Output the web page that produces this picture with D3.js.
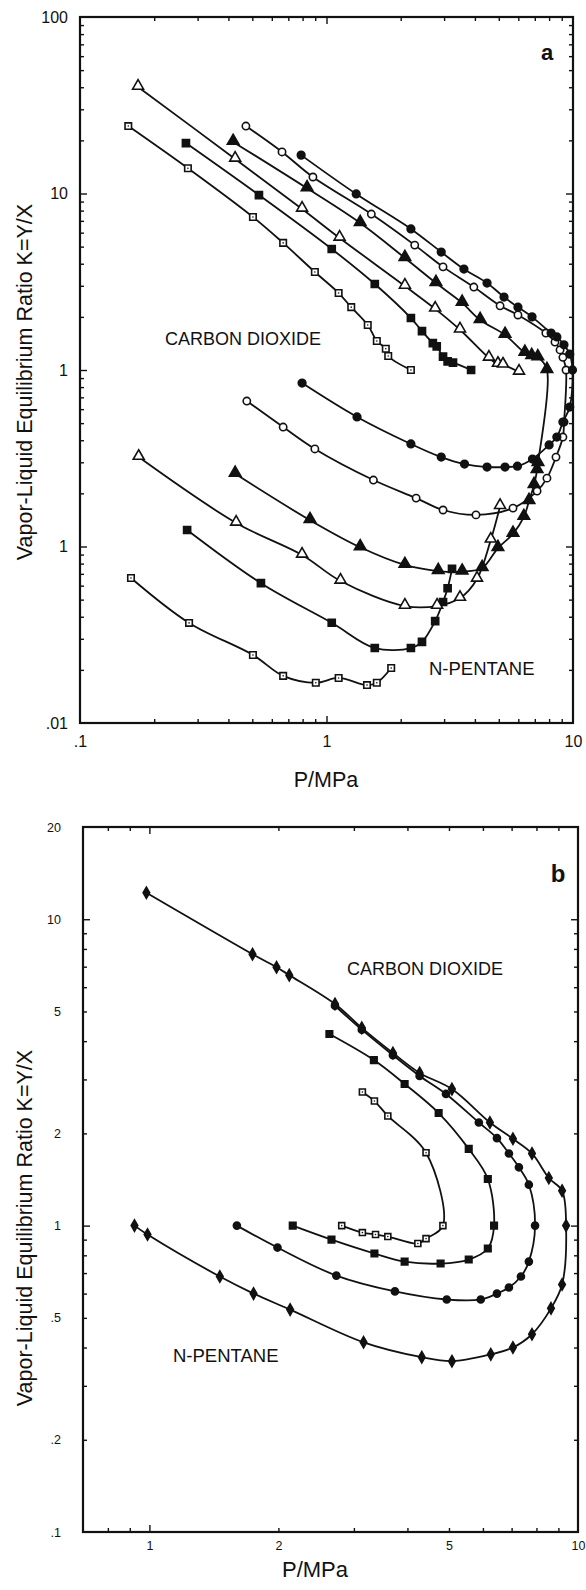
<!DOCTYPE html>
<html>
<head>
<meta charset="utf-8">
<script src="https://cdn.jsdelivr.net/npm/d3@7.9.0/dist/d3.min.js"></script>
<style>
  body { margin: 0; background: #fff; }
  svg { display: block; font-family: "Liberation Sans", Arial, Helvetica, sans-serif; }
</style>
</head>
<body>
<svg id="chart" width="586" height="1590"></svg>
<script>
// ---- panel a: [P/MPa, K] pairs, one array per isotherm and branch ----
const aOpenSquareCO2 = [[0.157, 24.1], [0.274, 13.9], [0.503, 7.36], [0.667, 5.25], [0.897, 3.59], [1.12, 2.73], [1.26, 2.27], [1.47, 1.80], [1.60, 1.46], [1.74, 1.32], [1.78, 1.20], [2.20, 1.00]];
const aOpenSquarePentane = [[0.161, 0.0663], [0.277, 0.0369], [0.503, 0.0243], [0.667, 0.0185], [0.905, 0.0169], [1.12, 0.0180], [1.46, 0.0164], [1.60, 0.0169], [1.83, 0.0205]];
const aFilledSquareCO2 = [[0.269, 19.3], [0.532, 9.8], [1.05, 4.85], [1.57, 3.07], [2.20, 1.97], [2.44, 1.66], [2.70, 1.42], [2.80, 1.36], [2.97, 1.19], [3.10, 1.12], [3.26, 1.10], [3.86, 1.00]];
const aFilledSquarePentane = [[0.272, 0.124], [0.542, 0.062], [1.05, 0.037], [1.57, 0.0266], [2.20, 0.0266], [2.44, 0.0288], [2.76, 0.0378], [2.97, 0.0485], [3.10, 0.058], [3.23, 0.0747]];
const aOpenTriangleCO2 = [[0.172, 40.1], [0.426, 15.7], [0.796, 8.17], [1.13, 5.6], [2.08, 2.99], [2.76, 2.22], [3.48, 1.69], [4.56, 1.17], [4.96, 1.08], [5.2, 1.07], [6.04, 0.975]];
const aOpenTrianglePentane = [[0.173, 0.321], [0.430, 0.136], [0.796, 0.0896], [1.14, 0.0638], [2.08, 0.046], [2.81, 0.046], [3.48, 0.051], [4.08, 0.0655], [4.64, 0.109], [5.06, 0.169]];
const aFilledTriangleCO2 = [[0.418, 19.6], [0.834, 10.7], [1.37, 6.8], [2.08, 4.31], [2.78, 3.11], [3.55, 2.40], [4.20, 1.92], [5.30, 1.58], [6.38, 1.25], [6.8, 1.20], [7.2, 1.18], [7.84, 1.00]];
const aFilledTrianglePentane = [[0.426, 0.258], [0.857, 0.141], [1.37, 0.099], [2.08, 0.0786], [2.84, 0.0726], [3.55, 0.072], [4.28, 0.0755], [4.96, 0.098], [5.71, 0.118], [6.32, 0.147], [6.63, 0.181], [6.95, 0.223], [7.15, 0.271], [7.21, 0.297]];
const aOpenCircleCO2 = [[0.471, 24.1], [0.660, 17.2], [0.881, 12.4], [1.52, 7.65], [2.28, 5.1], [2.97, 3.84], [3.96, 2.95], [5.06, 2.31], [5.98, 2.05], [7.76, 1.62], [8.45, 1.44], [8.86, 1.30], [9.1, 1.18], [9.37, 1.00]];
const aOpenCirclePentane = [[0.475, 0.667], [0.667, 0.475], [0.897, 0.357], [1.55, 0.238], [2.31, 0.188], [2.97, 0.161], [4.04, 0.151], [5.71, 0.165], [7.15, 0.206], [7.84, 0.244], [8.53, 0.321], [9.10, 0.417], [9.2, 0.507]];
const aFilledCircleCO2 = [[0.789, 16.5], [1.32, 9.94], [2.2, 6.3], [2.92, 4.66], [3.61, 3.73], [4.48, 3.11], [5.25, 2.59], [5.98, 2.27], [6.82, 2.0], [8.15, 1.62], [8.6, 1.54], [9.19, 1.39], [9.7, 1.23], [9.95, 1.00]];
const aFilledCirclePentane = [[0.796, 0.843], [1.33, 0.542], [2.2, 0.381], [2.92, 0.321], [3.63, 0.293], [4.48, 0.282], [5.3, 0.282], [5.95, 0.285], [6.85, 0.313], [8.0, 0.376], [8.6, 0.417], [9.1, 0.507], [9.7, 0.617]];

// ---- panel b ----
const bDiamondCO2 = [[0.984, 12.2], [1.74, 7.69], [1.98, 6.97], [2.12, 6.57], [2.71, 5.29], [3.13, 4.42], [3.70, 3.66], [4.27, 3.15], [5.08, 2.79], [6.23, 2.17], [7.05, 1.92], [7.81, 1.72], [8.55, 1.43], [9.18, 1.30]];
const bDiamondPentane = [[0.923, 1.0], [0.99, 0.935], [1.46, 0.682], [1.75, 0.60], [2.13, 0.532], [3.16, 0.416], [4.32, 0.372], [5.08, 0.361], [6.26, 0.38], [7.05, 0.40], [7.81, 0.442], [8.65, 0.537], [9.18, 0.642], [9.38, 1.0]];
const bCircleCO2 = [[2.71, 5.22], [3.13, 4.36], [3.70, 3.60], [4.27, 3.08], [4.92, 2.69], [5.87, 2.17], [6.47, 1.93], [6.9, 1.72], [7.28, 1.55], [7.68, 1.36]];
const bCirclePentane = [[1.60, 1.0], [1.99, 0.848], [2.73, 0.687], [3.74, 0.61], [4.94, 0.574], [5.93, 0.574], [6.47, 0.60], [6.9, 0.628], [7.36, 0.682], [7.68, 0.763], [7.94, 1.0]];
const bSquareCO2 = [[2.63, 4.22], [3.34, 3.47], [3.94, 2.9], [4.73, 2.33], [5.56, 1.78], [6.16, 1.42]];
const bSquarePentane = [[2.16, 1.0], [2.66, 0.90], [3.35, 0.811], [3.94, 0.763], [4.78, 0.752], [5.56, 0.775], [6.16, 0.842], [6.37, 1.0]];
const bOpenSquareCO2 = [[3.14, 2.73], [3.35, 2.55], [3.60, 2.28], [4.42, 1.73]];
const bOpenSquarePentane = [[2.81, 1.0], [3.14, 0.949], [3.37, 0.935], [3.6, 0.921], [4.23, 0.874], [4.42, 0.907], [4.84, 1.0]];

// tick labels
const aXTicks = [0.1, 1, 10];
const aXTickLabels = ['.1', '1', '10'];
const aYTicks = [0.01, 0.1, 1, 10, 100];
const aYTickLabels = ['.01', '1', '1', '10', '100'];
const bXTicks = [1, 2, 5, 10];
const bXTickLabels = ['1', '2', '5', '10'];
const bYTicks = [0.1, 0.2, 0.5, 1, 2, 5, 10, 20];
const bYTickLabels = ['.1', '.2', '.5', '1', '2', '5', '10', '20'];

const svg = d3.select('#chart');
const isDecade = v => Math.abs(Math.log10(v) - Math.round(Math.log10(v))) < 1e-6;

function drawPanel(p) {
  const x = d3.scaleLog().domain(p.xDomain).range([p.left, p.right]);
  const y = d3.scaleLog().domain(p.yDomain).range([p.bottom, p.top]);
  const g = svg.append('g');

  const xAll = x.ticks().filter(v => v > p.xDomain[0] * 1.001 && v < p.xDomain[1] * 0.999);
  const yAll = y.ticks().filter(v => v > p.yDomain[0] * 1.001 && v < p.yDomain[1] * 0.999);
  const sides = [
    [d3.axisBottom(x), xAll, `translate(0,${p.bottom})`],
    [d3.axisTop(x), xAll, `translate(0,${p.top})`],
    [d3.axisLeft(y), yAll, `translate(${p.left},0)`],
    [d3.axisRight(y), yAll, `translate(${p.right},0)`]
  ];
  sides.forEach(([axis, vals, tr]) => {
    const minor = vals.filter(v => !isDecade(v));
    const major = vals.filter(isDecade);
    [[minor, 4], [major, 7]].forEach(([tv, len]) => {
      const a = g.append('g').attr('transform', tr)
        .call(axis.tickValues(tv).tickSize(-len).tickFormat(''));
      a.select('.domain').remove();
      a.selectAll('line').attr('stroke', '#111').attr('stroke-width', 1.4);
    });
  });

  // tick labels
  const xl = g.append('g').attr('transform', `translate(0,${p.bottom})`)
    .call(d3.axisBottom(x).tickValues(p.xTicks).tickSize(0).tickPadding(p.xPad)
      .tickFormat((d, i) => p.xLabels[i]));
  const yl = g.append('g').attr('transform', `translate(${p.left},0)`)
    .call(d3.axisLeft(y).tickValues(p.yTicks).tickSize(0).tickPadding(p.yPad)
      .tickFormat((d, i) => p.yLabels[i]));
  [xl, yl].forEach(a => {
    a.select('.domain').remove();
    a.selectAll('text').attr('font-size', p.tickFont).attr('fill', '#111')
      .attr('font-family', '"Liberation Sans", Arial, sans-serif');
  });

  g.append('rect')
    .attr('x', p.left).attr('y', p.top)
    .attr('width', p.right - p.left).attr('height', p.bottom - p.top)
    .attr('fill', 'none').attr('stroke', '#111').attr('stroke-width', 2.2);

  const line = d3.line().x(d => x(d[0])).y(d => y(d[1])).curve(d3.curveCatmullRom.alpha(0.5));
  p.series.forEach(s => {
    const paths = s.closed ? [s.co2.concat(s.pen.slice().reverse())] : [s.co2, s.pen];
    paths.forEach(pts => {
      g.append('path').attr('d', line(pts))
        .attr('fill', 'none').attr('stroke', '#111').attr('stroke-width', p.lineWidth);
    });
  });
  p.series.forEach(s => {
    s.co2.concat(s.pen).forEach(d => drawMarker(g, s.mark, x(d[0]), y(d[1]), p.markScale));
  });
  return { g, x, y };
}

function drawMarker(g, type, cx, cy, k) {
  const filled = type.startsWith('filled');
  const shape = {
    openSquare: d3.symbolSquare, filledSquare: d3.symbolSquare,
    openTriangle: d3.symbolTriangle, filledTriangle: d3.symbolTriangle,
    openCircle: d3.symbolCircle, filledCircle: d3.symbolCircle,
    filledDiamond: d3.symbolDiamond
  }[type];
  const size = {
    openSquare: 42, filledSquare: 50, openTriangle: 52, filledTriangle: 58,
    openCircle: 42, filledCircle: 46, filledDiamond: 44
  }[type] * k;
  const dy = shape === d3.symbolTriangle ? -1 : 0;
  g.append('path')
    .attr('d', d3.symbol().type(shape).size(size)())
    .attr('transform', `translate(${cx},${cy + dy})`)
    .attr('fill', filled ? '#111' : '#fff')
    .attr('stroke', '#111').attr('stroke-width', 1.6);
  if (type === 'openSquare') {
    g.append('circle').attr('cx', cx).attr('cy', cy).attr('r', 0.8).attr('fill', '#111');
  }
}

drawPanel({
  left: 80, right: 573, top: 17, bottom: 723,
  xDomain: [0.1, 10], yDomain: [0.01, 100],
  xTicks: aXTicks, xLabels: aXTickLabels, yTicks: aYTicks, yLabels: aYTickLabels,
  xPad: 13, yPad: 12, tickFont: 16, markScale: 1, lineWidth: 1.8,
  series: [
    { co2: aOpenSquareCO2, pen: aOpenSquarePentane, closed: false, mark: 'openSquare' },
    { co2: aFilledSquareCO2, pen: aFilledSquarePentane, closed: false, mark: 'filledSquare' },
    { co2: aOpenTriangleCO2, pen: aOpenTrianglePentane, closed: false, mark: 'openTriangle' },
    { co2: aFilledTriangleCO2, pen: aFilledTrianglePentane, closed: true, mark: 'filledTriangle' },
    { co2: aOpenCircleCO2, pen: aOpenCirclePentane, closed: true, mark: 'openCircle' },
    { co2: aFilledCircleCO2, pen: aFilledCirclePentane, closed: true, mark: 'filledCircle' }
  ]
});

drawPanel({
  left: 83, right: 578, top: 827, bottom: 1532,
  xDomain: [0.7, 10], yDomain: [0.1, 20],
  xTicks: bXTicks, xLabels: bXTickLabels, yTicks: bYTicks, yLabels: bYTickLabels,
  xPad: 9, yPad: 22, tickFont: 12.5, markScale: 0.85, lineWidth: 1.8,
  series: [
    { co2: bDiamondCO2, pen: bDiamondPentane, closed: true, mark: 'filledDiamond' },
    { co2: bCircleCO2, pen: bCirclePentane, closed: true, mark: 'filledCircle' },
    { co2: bSquareCO2, pen: bSquarePentane, closed: true, mark: 'filledSquare' },
    { co2: bOpenSquareCO2, pen: bOpenSquarePentane, closed: true, mark: 'openSquare' }
  ]
});

// annotations
function label(txt, x, y, size, opts = {}) {
  const t = svg.append('text').attr('x', x).attr('y', y).text(txt)
    .attr('font-size', size).attr('fill', '#111')
    .attr('text-anchor', opts.anchor || 'start')
    .attr('font-weight', opts.bold ? 'bold' : 'normal');
  if (opts.rotate) t.attr('transform', `rotate(-90,${x},${y})`);
  return t;
}
label('a', 547, 60, 22, { bold: true, anchor: 'middle' });
label('CARBON DIOXIDE', 165, 345, 18);
label('N-PENTANE', 429, 675, 18.5);
label('P/MPa', 326, 787, 21.5, { anchor: 'middle' });
label('Vapor-Liquid Equilibrium Ratio K=Y/X', 32, 382, 21.5, { anchor: 'middle', rotate: true });

label('b', 558, 882, 24, { bold: true, anchor: 'middle' });
label('CARBON DIOXIDE', 347, 975, 18);
label('N-PENTANE', 173, 1362, 18.5);
label('P/MPa', 315, 1577, 22, { anchor: 'middle' });
label('Vapor-Liquid Equilibrium Ratio K=Y/X', 32, 1228, 21.5, { anchor: 'middle', rotate: true });
</script>
</body>
</html>
